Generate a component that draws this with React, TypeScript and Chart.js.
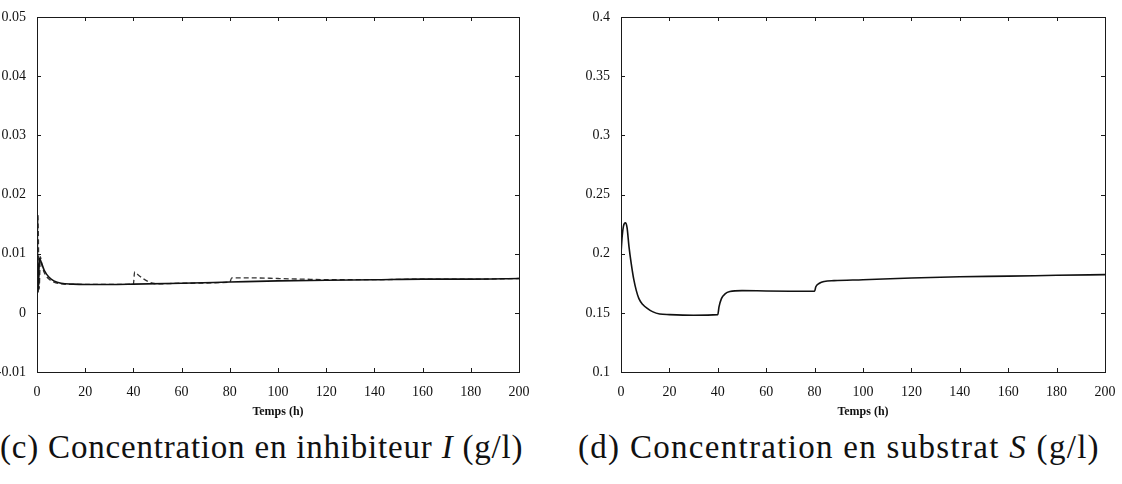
import React, { useEffect, useRef } from "react";
import { Chart, registerables } from "chart.js";
Chart.register(...registerables);

// ---- Data ----
const xTicks = [0, 20, 40, 60, 80, 100, 120, 140, 160, 180, 200];

const yTicksI = [-0.01, 0, 0.01, 0.02, 0.03, 0.04, 0.05];
const yTickLabelsI = ["-0.01", "0", "0.01", "0.02", "0.03", "0.04", "0.05"];

const yTicksS = [0.1, 0.15, 0.2, 0.25, 0.3, 0.35, 0.4];
const yTickLabelsS = ["0.1", "0.15", "0.2", "0.25", "0.3", "0.35", "0.4"];

const timeISolid = [0, 0.5, 1.0, 1.6, 3, 5, 7, 10, 15, 20, 30, 40, 60, 80, 100, 120, 140, 160, 180, 200];
const inhibSolid = [0.0155, 0.0035, 0.0092, 0.0087, 0.0072, 0.006, 0.0054, 0.005, 0.00485, 0.0048, 0.0048, 0.00485, 0.005, 0.0052, 0.0054, 0.0055, 0.0056, 0.0057, 0.0057, 0.0058];

const timeIDashed = [0, 0.4, 0.9, 1.4, 2, 3, 5, 7, 10, 15, 20, 30, 40, 40.5, 42, 44, 46, 48, 50, 60, 80, 80.8, 90, 100, 110, 120, 140, 160, 180, 200];
const inhibDashed = [0.003, 0.0165, 0.004, 0.0095, 0.0082, 0.0068, 0.0057, 0.0052, 0.0049, 0.0048, 0.0048, 0.0048, 0.00485, 0.0069, 0.0064, 0.0058, 0.0053, 0.005, 0.0049, 0.005, 0.0052, 0.0059, 0.0059, 0.0058, 0.0057, 0.0056, 0.0056, 0.0057, 0.0057, 0.0058];

const timeS = [0, 0.5, 1, 1.8, 2.5, 3.3, 4.2, 5.3, 6.3, 7.4, 9, 11, 13, 16, 20, 30, 40, 40.5, 41.5, 43, 45, 50, 60, 70, 80, 80.5, 82, 84, 88, 100, 120, 140, 160, 180, 200];
const substrat = [0.2, 0.215, 0.223, 0.226, 0.222, 0.206, 0.192, 0.178, 0.169, 0.162, 0.157, 0.1535, 0.151, 0.149, 0.1485, 0.148, 0.1485, 0.155, 0.162, 0.166, 0.168, 0.1688, 0.1685, 0.1683, 0.1682, 0.172, 0.175, 0.1765, 0.1772, 0.178, 0.1795, 0.1805, 0.181, 0.1817, 0.1823];

const SERIF = "'Liberation Serif', 'Times New Roman', serif";

const framePlugin = {
  id: "frame",
  afterDraw(chart: any) {
    const { ctx, chartArea: a, scales } = chart;
    ctx.save();
    ctx.strokeStyle = "#1a1a1a";
    ctx.lineWidth = 1;
    ctx.strokeRect(Math.round(a.left) + 0.5, Math.round(a.top) + 0.5, Math.round(a.right - a.left), Math.round(a.bottom - a.top));
    const L = 4;
    ctx.beginPath();
    scales.x.ticks.forEach((t: any) => {
      const px = Math.round(scales.x.getPixelForValue(t.value)) + 0.5;
      ctx.moveTo(px, a.bottom);
      ctx.lineTo(px, a.bottom - L);
      ctx.moveTo(px, a.top);
      ctx.lineTo(px, a.top + L);
    });
    scales.y.ticks.forEach((t: any) => {
      const py = Math.round(scales.y.getPixelForValue(t.value)) + 0.5;
      ctx.moveTo(a.left, py);
      ctx.lineTo(a.left + L, py);
      ctx.moveTo(a.right, py);
      ctx.lineTo(a.right - L, py);
    });
    ctx.stroke();
    ctx.restore();
  },
};

function makeConfig(
  datasets: any[],
  yMin: number,
  yMax: number,
  yTicks: number[],
  yLabels: string[],
  padRight: number
) {
  return {
    type: "line",
    data: { datasets },
    plugins: [framePlugin],
    options: {
      animation: false,
      responsive: false,
      events: [],
      layout: { padding: { left: 0, right: padRight, top: 17, bottom: 3 } },
      plugins: { legend: { display: false }, tooltip: { enabled: false } },
      elements: { point: { radius: 0 } },
      scales: {
        x: {
          type: "linear",
          min: 0,
          max: 200,
          grid: { display: false },
          border: { display: false },
          afterBuildTicks: (s: any) => {
            s.ticks = xTicks.map((v) => ({ value: v }));
          },
          afterFit: (s: any) => {
            s.height = 50;
          },
          ticks: {
            padding: 4,
            color: "#111",
            font: { family: SERIF, size: 14 },
            maxRotation: 0,
            callback: (v: any) => String(v),
          },
          title: {
            display: true,
            text: "Temps (h)",
            color: "#111",
            font: { family: SERIF, size: 12, weight: "bold" },
            padding: { top: 0, bottom: 3 },
          },
        },
        y: {
          type: "linear",
          min: yMin,
          max: yMax,
          grid: { display: false },
          border: { display: false },
          afterBuildTicks: (s: any) => {
            s.ticks = yTicks.map((v) => ({ value: v }));
          },
          afterFit: (s: any) => {
            s.width = 37;
          },
          ticks: {
            padding: 3,
            color: "#111",
            font: { family: SERIF, size: 14 },
            callback: (v: any) => {
              const i = yTicks.findIndex((t) => Math.abs(t - v) < 1e-9);
              return i >= 0 ? yLabels[i] : "";
            },
          },
        },
      },
    },
  };
}

function toXY(xs: number[], ys: number[]) {
  return xs.map((x, i) => ({ x, y: ys[i] }));
}

function ChartCanvas({ config, left, width, height }: any) {
  const ref = useRef<HTMLCanvasElement | null>(null);
  useEffect(() => {
    if (!ref.current) return;
    const chart = new Chart(ref.current, config());
    return () => chart.destroy();
  }, []);
  return (
    <canvas
      ref={ref}
      width={width}
      height={height}
      style={{ position: "absolute", left, top: 0, width, height }}
    />
  );
}

export default function App() {
  const configI = () =>
    makeConfig(
      [
        {
          label: "I",
          data: toXY(timeISolid, inhibSolid),
          borderColor: "#111",
          borderWidth: 1.6,
          cubicInterpolationMode: "monotone",
          fill: false,
        },
        {
          label: "I (dashed)",
          data: toXY(timeIDashed, inhibDashed),
          borderColor: "#333",
          borderWidth: 1.3,
          borderDash: [5, 3],
          cubicInterpolationMode: "monotone",
          fill: false,
        },
      ],
      -0.01,
      0.05,
      yTicksI,
      yTickLabelsI,
      41
    );
  const configS = () =>
    makeConfig(
      [
        {
          label: "S",
          data: toXY(timeS, substrat),
          borderColor: "#111",
          borderWidth: 1.6,
          cubicInterpolationMode: "monotone",
          fill: false,
        },
      ],
      0.1,
      0.4,
      yTicksS,
      yTickLabelsS,
      17
    );

  const capStyle: React.CSSProperties = {
    position: "absolute",
    top: 428,
    fontFamily: SERIF,
    fontSize: 33,
    color: "#111",
    whiteSpace: "nowrap",
    lineHeight: "38px",
  };

  return (
    <div
      style={{
        position: "absolute",
        left: 0,
        top: 0,
        width: 1122,
        height: 484,
        background: "#fff",
        overflow: "hidden",
      }}
    >
      <ChartCanvas config={configI} left={0} width={560} height={425} />
      <ChartCanvas config={configS} left={584} width={538} height={425} />
      <div style={{ ...capStyle, left: 0, letterSpacing: "0.8px" }}>
        (c) Concentration en inhibiteur <i>I</i> (g/l)
      </div>
      <div style={{ ...capStyle, left: 578, letterSpacing: "1.3px" }}>
        (d) Concentration en substrat <i>S</i> (g/l)
      </div>
    </div>
  );
}
